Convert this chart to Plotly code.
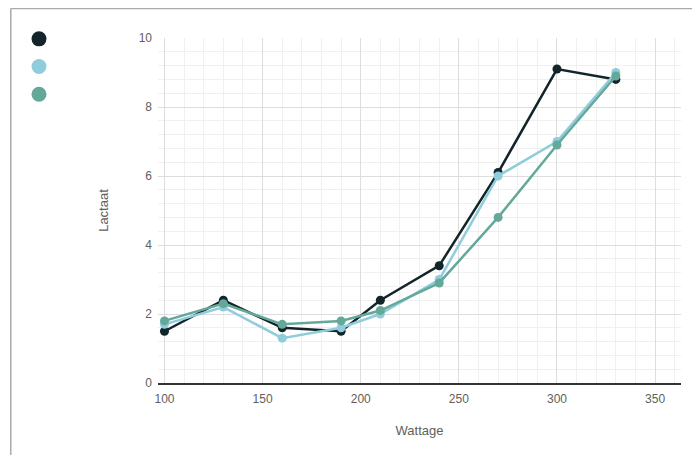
import plotly.graph_objects as go

wattage = [100, 130, 160, 190, 210, 240, 270, 300, 330]
series_names = [" ", "  ", "   "]
series_values = [
    [1.5, 2.4, 1.6, 1.5, 2.4, 3.4, 6.1, 9.1, 8.8],
    [1.7, 2.2, 1.3, 1.6, 2.0, 3.0, 6.0, 7.0, 9.0],
    [1.8, 2.3, 1.7, 1.8, 2.1, 2.9, 4.8, 6.9, 8.9],
]
colors = ["#13252a", "#8fcddc", "#64a89a"]
x_title = "Wattage"
y_title = "Lactaat"

W, H = 700, 455
O = 8  # page offset of the figure
L, T = 157 - O, 38 - O
pw, ph = 524, 345
R, B = W - L - pw, H - T - ph

def px(x):
    return (x - O - L) / pw

def py(y):
    return (T + ph - (y - O)) / ph

fig = go.Figure()
for name, vals, c in zip(series_names, series_values, colors):
    fig.add_trace(go.Scatter(x=wattage, y=vals, mode="lines+markers", name=name,
                             line=dict(color=c, width=2.5),
                             marker=dict(color=c, size=9),
                             showlegend=False))
for name, c in zip(series_names, colors):
    fig.add_trace(go.Scatter(x=[None], y=[None], mode="markers", name=name,
                             marker=dict(color=c, size=15), showlegend=True))

fig.update_layout(
    width=W, height=H,
    margin=dict(l=L, r=R, t=T, b=B),
    plot_bgcolor="white", paper_bgcolor="white",
    font=dict(family="Liberation Sans, Arial, sans-serif", color="#606060", size=12),
    legend=dict(x=px(19), y=py(20), xanchor="left", yanchor="top",
                font=dict(size=19), itemsizing="trace", bgcolor="rgba(0,0,0,0)"),
    xaxis=dict(range=[96.7, 363.2], dtick=50, tick0=100, showgrid=True,
               gridcolor="#dddddd", gridwidth=1,
               minor=dict(dtick=10, showgrid=True, gridcolor="#f0f0f0", gridwidth=1),
               showline=True, linecolor="#333333", linewidth=1.5, zeroline=False,
               ticks="", ticklabelstandoff=4,
               title=dict(text=x_title, font=dict(size=13, color="#606060"), standoff=21)),
    yaxis=dict(range=[0, 10], dtick=2, showgrid=True, gridcolor="#dddddd", gridwidth=1,
               minor=dict(dtick=0.4, showgrid=True, gridcolor="#f0f0f0", gridwidth=1),
               showline=False, zeroline=False, ticks="", ticklabelstandoff=5,
               title=dict(text=y_title, font=dict(size=13, color="#606060"), standoff=27)),
    shapes=[
        dict(type="line", xref="paper", yref="paper", x0=px(9.5), x1=px(705), y0=py(8.5), y1=py(8.5),
             line=dict(color="#aaaaaa", width=1.5)),
        dict(type="line", xref="paper", yref="paper", x0=px(9.5), x1=px(9.5), y0=py(8.5), y1=py(470),
             line=dict(color="#aaaaaa", width=1.5)),
    ],
)
fig.write_html("out.html")
